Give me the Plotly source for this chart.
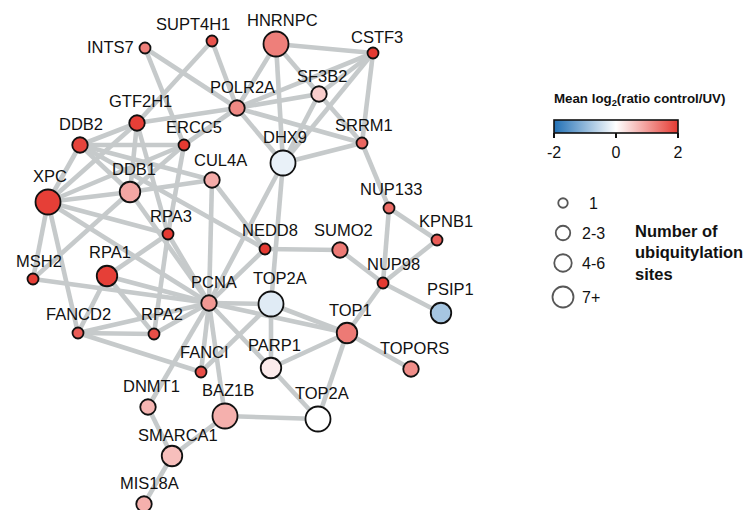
import plotly.graph_objects as go

# ---------------- data ----------------
node_ids = ["INTS7", "SUPT4H1", "HNRNPC", "CSTF3", "SF3B2", "POLR2A", "GTF2H1", "DDB2",
            "ERCC5", "SRRM1", "DHX9", "CUL4A", "XPC", "DDB1", "RPA3", "NUP133", "KPNB1",
            "NEDD8", "SUMO2", "MSH2", "RPA1", "NUP98", "PCNA", "TOP2A_a", "PSIP1", "FANCD2",
            "RPA2", "TOP1", "FANCI", "PARP1", "TOPORS", "DNMT1", "BAZ1B", "TOP2A_b",
            "SMARCA1", "MIS18A"]
node_labels = ["INTS7", "SUPT4H1", "HNRNPC", "CSTF3", "SF3B2", "POLR2A", "GTF2H1", "DDB2",
               "ERCC5", "SRRM1", "DHX9", "CUL4A", "XPC", "DDB1", "RPA3", "NUP133", "KPNB1",
               "NEDD8", "SUMO2", "MSH2", "RPA1", "NUP98", "PCNA", "TOP2A", "PSIP1", "FANCD2",
               "RPA2", "TOP1", "FANCI", "PARP1", "TOPORS", "DNMT1", "BAZ1B", "TOP2A",
               "SMARCA1", "MIS18A"]
# network layout coordinates
node_x = [145, 212, 276, 373, 319, 237, 137, 80, 184, 362, 283, 212, 48, 130, 168, 389, 437,
          265, 340, 33, 107, 383, 209, 271, 441, 78, 154, 347, 201, 271, 411, 148, 225, 318,
          172, 144]
node_y = [48, 41, 44, 53, 94, 108, 123, 145, 145, 143, 163, 180, 202, 192, 234, 208, 240,
          249, 250, 279, 276, 283, 303, 304, 313, 333, 334, 333, 372, 368, 369, 407, 416, 419,
          456, 504]
# mean log2(ratio control/UV)
node_ratio = [1.3, 1.75, 1.3, 2.0, 0.5, 1.2, 1.95, 1.9, 2.0, 1.55, -0.2, 0.85, 1.95, 0.9,
              2.0, 1.5, 1.65, 2.0, 1.35, 1.95, 1.95, 2.0, 1.05, -0.28, -0.8, 1.65, 1.8, 1.35,
              1.8, 0.2, 1.15, 0.75, 0.8, 0.0, 0.65, 0.8]
# number of ubiquitylation sites (category)
node_sites = ["1", "1", "7+", "1", "2-3", "2-3", "2-3", "2-3", "1", "1", "7+", "2-3", "7+",
              "4-6", "1", "1", "1", "1", "2-3", "1", "4-6", "1", "2-3", "7+", "4-6", "1",
              "1", "4-6", "1", "4-6", "2-3", "2-3", "7+", "7+", "4-6", "2-3"]

edges = [
    ("INTS7", "POLR2A"), ("INTS7", "ERCC5"), ("SUPT4H1", "GTF2H1"), ("SUPT4H1", "POLR2A"),
    ("HNRNPC", "CSTF3"), ("HNRNPC", "POLR2A"), ("HNRNPC", "DHX9"), ("HNRNPC", "SF3B2"),
    ("SF3B2", "SRRM1"), ("CSTF3", "POLR2A"), ("CSTF3", "SF3B2"), ("CSTF3", "DHX9"),
    ("CSTF3", "SRRM1"), ("POLR2A", "SF3B2"), ("POLR2A", "SRRM1"), ("POLR2A", "DHX9"),
    ("POLR2A", "GTF2H1"), ("POLR2A", "ERCC5"), ("SF3B2", "DHX9"), ("DHX9", "SRRM1"),
    ("DHX9", "PCNA"), ("DHX9", "TOP2A_a"), ("SRRM1", "NUP133"), ("NUP133", "KPNB1"),
    ("NUP133", "NUP98"), ("KPNB1", "NUP98"), ("NUP98", "SUMO2"), ("NUP98", "PSIP1"),
    ("NUP98", "TOP1"), ("SUMO2", "NEDD8"), ("NEDD8", "CUL4A"), ("NEDD8", "DDB2"),
    ("NEDD8", "PCNA"), ("GTF2H1", "DDB2"), ("GTF2H1", "XPC"), ("GTF2H1", "DDB1"),
    ("GTF2H1", "RPA3"), ("DDB2", "ERCC5"), ("DDB2", "XPC"), ("DDB2", "DDB1"),
    ("DDB2", "CUL4A"),
    ("XPC", "ERCC5"), ("XPC", "DDB1"), ("DDB1", "CUL4A"), ("XPC", "RPA3"), ("XPC", "PCNA"),
    ("XPC", "MSH2"), ("XPC", "FANCD2"), ("MSH2", "DDB1"), ("MSH2", "PCNA"), ("RPA1", "PCNA"),
    ("RPA1", "RPA3"), ("RPA1", "FANCD2"), ("RPA1", "RPA2"), ("FANCD2", "RPA2"),
    ("FANCD2", "PCNA"), ("FANCD2", "FANCI"), ("RPA2", "PCNA"), ("RPA2", "RPA3"),
    ("RPA3", "PCNA"), ("CUL4A", "PCNA"), ("ERCC5", "RPA3"), ("ERCC5", "DDB1"),
    ("PCNA", "TOP2A_a"), ("PCNA", "TOP1"), ("TOP2A_a", "TOP1"), ("TOP2A_a", "PARP1"),
    ("TOP2A_a", "FANCI"), ("PCNA", "PARP1"), ("PARP1", "TOP2A_b"), ("PARP1", "TOP1"),
    ("TOP1", "TOP2A_b"), ("TOP1", "TOPORS"), ("PCNA", "FANCI"), ("PCNA", "BAZ1B"),
    ("PCNA", "DNMT1"), ("BAZ1B", "TOP2A_b"), ("BAZ1B", "SMARCA1"), ("SMARCA1", "DNMT1"),
    ("SMARCA1", "MIS18A"), ("DDB1", "PCNA"),
]

legend_cats = ["1", "2-3", "4-6", "7+"]
cbar_ticks = [-2, 0, 2]

# ---------------- styling ----------------
FONT = "Liberation Sans, Arial, sans-serif"
size_map = {"1": 11, "2-3": 15.5, "4-6": 20.5, "7+": 25}
legend_size_map = {"1": 9.5, "2-3": 14.5, "4-6": 17.5, "7+": 21}
colorscale = [[0.0, "#2170b5"], [0.5, "#ffffff"], [1.0, "#e53a32"]]

# label offsets relative to node (pixels)
label_off = {
    "SUPT4H1": (-19, -17), "HNRNPC": (6, -24), "CSTF3": (4, -16), "SF3B2": (3, -18),
    "POLR2A": (5, -21), "GTF2H1": (3, -22), "DDB2": (1, -21), "ERCC5": (10, -18),
    "SRRM1": (2, -18), "DHX9": (2, -26), "CUL4A": (8, -20), "XPC": (2, -26),
    "DDB1": (4, -23), "RPA3": (3, -18), "NUP133": (2, -19), "KPNB1": (9, -19),
    "NEDD8": (5, -19), "SUMO2": (3, -20), "MSH2": (6, -18), "RPA1": (3, -24),
    "NUP98": (10, -19), "PCNA": (5, -21), "TOP2A_a": (9, -26), "PSIP1": (9, -24),
    "FANCD2": (0, -19), "RPA2": (8, -20), "TOP1": (3, -23), "FANCI": (3, -20),
    "PARP1": (3, -23), "TOPORS": (3, -21), "DNMT1": (3, -21), "BAZ1B": (3, -26),
    "TOP2A_b": (4, -26), "SMARCA1": (6, -21), "MIS18A": (5, -21),
}

pos = {n: (x, y) for n, x, y in zip(node_ids, node_x, node_y)}

ex, ey = [], []
for a, b in edges:
    ex += [pos[a][0], pos[b][0], None]
    ey += [pos[a][1], pos[b][1], None]

fig = go.Figure()
fig.add_trace(go.Scatter(x=ex, y=ey, mode="lines",
                         line=dict(color="#c6cacb", width=4.6),
                         hoverinfo="skip", showlegend=False))

fig.add_trace(go.Scatter(
    x=node_x, y=node_y, mode="markers", text=node_labels, showlegend=False,
    marker=dict(
        size=[size_map[s] for s in node_sites], opacity=1,
        color=node_ratio, colorscale=colorscale, cmin=-2, cmax=2,
        line=dict(color="#111111", width=1.8),
        colorbar=dict(
            orientation="h", x=616 / 750, xanchor="center",
            y=1 - 120 / 510, yanchor="top", len=124 / 750, lenmode="fraction",
            thickness=13, xpad=0, ypad=0, outlinewidth=1.6, outlinecolor="#111111",
            tickvals=cbar_ticks, ticktext=[str(t) for t in cbar_ticks],
            ticks="outside", ticklen=5, tickwidth=1.6, tickcolor="#111111",
            tickfont=dict(family=FONT, size=16, color="#111111"),
        ),
    ),
))

annotations = []
for n, lab, x, y in zip(node_ids, node_labels, node_x, node_y):
    if n == "INTS7":
        annotations.append(dict(x=x - 9, y=y - 1, text=lab, xanchor="right", yanchor="middle",
                                showarrow=False, xref="x", yref="y",
                                font=dict(family=FONT, size=16.5, color="#111111")))
        continue
    dx, dy = label_off[n]
    annotations.append(dict(x=x + dx, y=y + dy, text=lab, xanchor="center", yanchor="middle",
                            showarrow=False, xref="x", yref="y",
                            font=dict(family=FONT, size=16.5, color="#111111")))

# colorbar title
annotations.append(dict(x=727, y=99, xref="x", yref="y", xanchor="right", yanchor="middle",
                        showarrow=False,
                        text="<b>Mean log<sub>2</sub>(ratio control/UV)</b>",
                        font=dict(family=FONT, size=13.3, color="#111111")))

# size legend
leg_y = [203, 233, 263, 297]
fig.add_trace(go.Scatter(
    x=[563] * len(legend_cats), y=leg_y, mode="markers", showlegend=False, hoverinfo="skip",
    marker=dict(size=[legend_size_map[c] for c in legend_cats], color="white",
                line=dict(color="#111111", width=1.8)),
))
for c, yy in zip(legend_cats, leg_y):
    if c == "1":
        annotations.append(dict(x=593, y=yy, xref="x", yref="y", xanchor="center",
                                yanchor="middle", showarrow=False, text=c,
                                font=dict(family=FONT, size=16, color="#111111")))
    else:
        annotations.append(dict(x=580, y=yy, xref="x", yref="y", xanchor="left",
                                yanchor="middle", showarrow=False, text=c,
                                font=dict(family=FONT, size=16, color="#111111")))
annotations.append(dict(x=633, y=252, xref="x", yref="y", xanchor="left", yanchor="middle",
                        showarrow=False, align="left",
                        text="<b>Number of<br>ubiquitylation<br>sites</b>",
                        font=dict(family=FONT, size=16.5, color="#111111")))

fig.update_layout(
    width=750, height=510, margin=dict(l=0, r=0, t=0, b=0, autoexpand=False),
    paper_bgcolor="white", plot_bgcolor="white",
    xaxis=dict(range=[0, 750], visible=False, fixedrange=True),
    yaxis=dict(range=[510, 0], visible=False, fixedrange=True),
    annotations=annotations, showlegend=False,
)
fig.write_html("out.html", config={"displayModeBar": False},
               post_script="document.body.style.margin='0';document.body.style.overflow='hidden';")
